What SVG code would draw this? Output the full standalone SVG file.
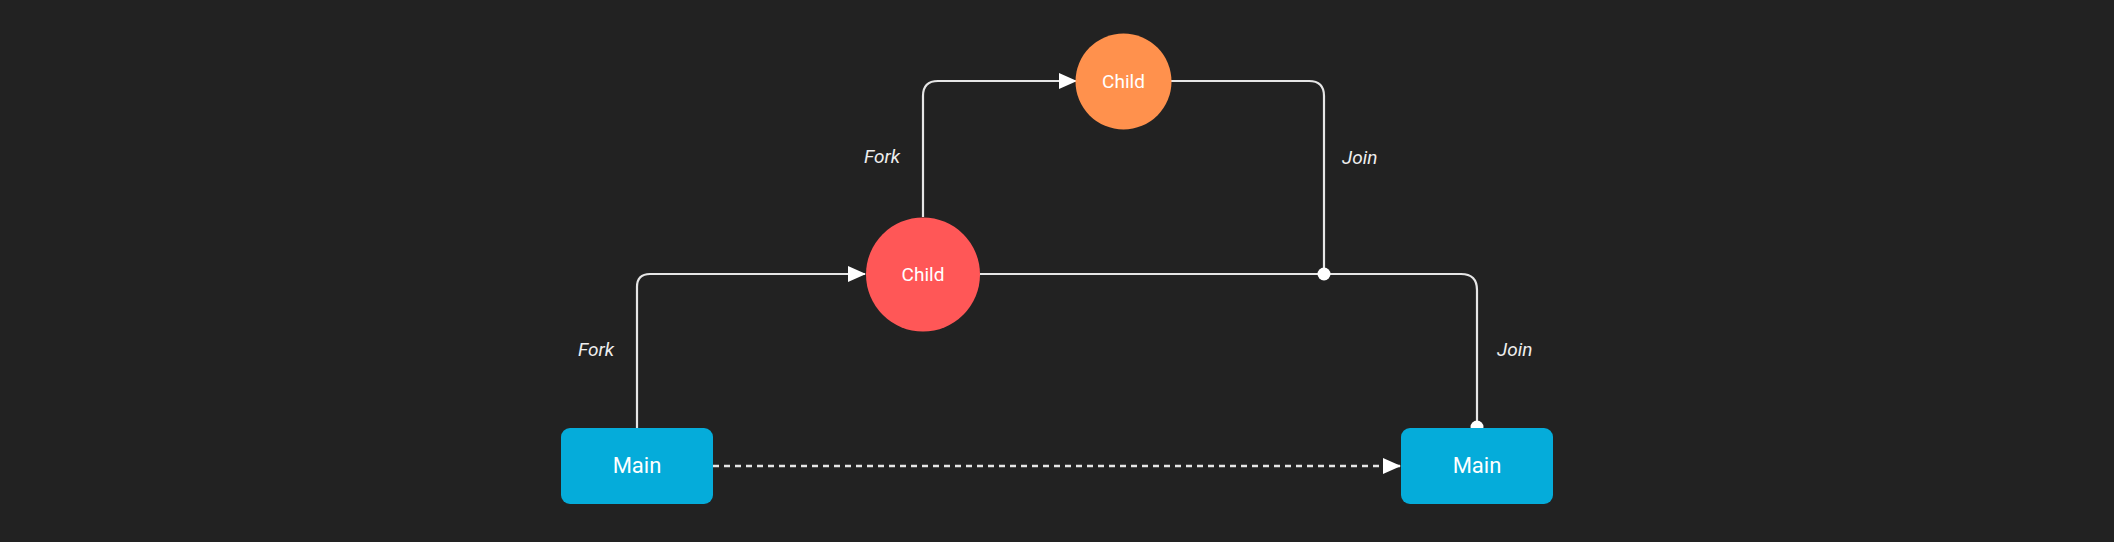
<svg xmlns="http://www.w3.org/2000/svg" width="2114" height="542" viewBox="0 0 2114 542">
<defs>
<style>
.bg{fill:#222222}
.edge{fill:none;stroke:#e6e6e6;stroke-width:2.2}
.dash{stroke-dasharray:6 5;stroke-width:2.5}
.lbl{font-family:Roboto,"Liberation Sans",sans-serif;font-style:italic;font-size:19px;fill:#eeeeee}
.ntext{font-family:Roboto,"Liberation Sans",sans-serif;font-weight:400;fill:#ffffff;text-anchor:middle;dominant-baseline:central}
.main{fill:#05acda}
.dot{fill:#ffffff}
</style>
<marker id="arrow" viewBox="0 0 18 16" refX="17" refY="8" markerWidth="18" markerHeight="16" markerUnits="userSpaceOnUse" orient="auto">
<path d="M0,0 L18,8 L0,16 Z" fill="#ffffff"/>
</marker>
</defs>
<rect class="bg" x="0" y="0" width="2114" height="542"/>
<g id="connectors">
<path class="edge" d="M637,428 V287 Q637,274 650,274 H865" marker-end="url(#arrow)"/>
<path class="edge" d="M923,217 V96 Q923,81 938,81 H1076" marker-end="url(#arrow)"/>
<path class="edge" d="M1171,81 H1309 Q1324,81 1324,96 V274"/>
<path class="edge" d="M980,274 H1461 Q1477,274 1477,290 V427"/>
<path class="edge dash" d="M713,466 H1400" marker-end="url(#arrow)"/>
<circle class="dot" cx="1324" cy="274" r="6.5"/>
<circle class="dot" cx="1477" cy="427" r="6.5"/>
<text class="lbl" x="578" y="356">Fork</text>
<text class="lbl" x="864" y="163">Fork</text>
<text class="lbl" x="1342" y="164">Join</text>
<text class="lbl" x="1497" y="356">Join</text>
</g>
<g id="main1">
<rect class="main" x="561" y="428" width="152" height="76" rx="9"/>
<text class="ntext" x="637" y="465" font-size="22">Main</text>
</g>
<g id="child1">
<circle cx="923" cy="274.5" r="57" fill="#ff5757"/>
<text class="ntext" x="923" y="274.5" font-size="19">Child</text>
</g>
<g id="child2">
<circle cx="1123.5" cy="81.5" r="48" fill="#ff914d"/>
<text class="ntext" x="1123.5" y="81.5" font-size="19">Child</text>
</g>
<g id="main2">
<rect class="main" x="1401" y="428" width="152" height="76" rx="9"/>
<text class="ntext" x="1477" y="465" font-size="22">Main</text>
</g>
</svg>
